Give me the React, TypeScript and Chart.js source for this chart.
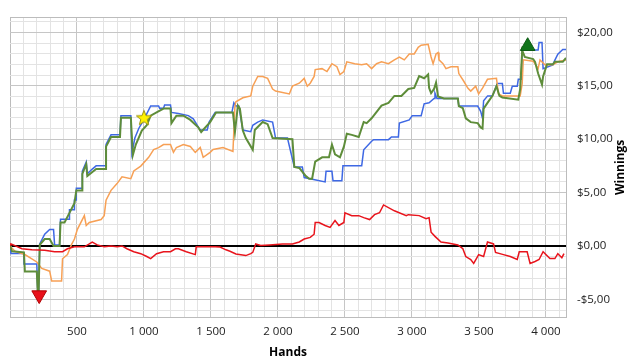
import React, { useEffect, useRef } from "react";
import { Chart, registerables } from "chart.js";

Chart.register(...registerables);

// ---- data (hands, winnings in $) ----
const blueHands = [0,7,104,104,200,207,214,222,259,296,325,333,370,377,444,444,481,481,495,495,540,540,569,577,614,643,717,717,754,821,828,902,910,932,961,998,1050,1109,1117,1146,1154,1198,1205,1257,1331,1368,1420,1472,1486,1531,1656,1671,1686,1708,1738,1797,1812,1849,1886,1960,1982,2071,2122,2182,2196,2352,2359,2403,2411,2477,2485,2625,2640,2699,2714,2825,2847,2899,2906,2980,3002,3069,3091,3128,3165,3172,3187,3343,3350,3491,3513,3527,3535,3565,3601,3638,3675,3683,3734,3749,3786,3794,3816,3823,3856,3942,3949,3971,3979,4052,4067,4089,4126,4150];
const blueValues = [0,-0.7,-0.7,-1.7,-1.7,-4.2,-4.2,0.2,1.1,1.55,1.55,0.1,0.1,2.5,2.5,3.4,3.4,4.3,4.3,5.4,5.4,7.0,7.85,6.75,7.2,7.5,7.5,9.5,10.4,10.4,12.2,12.2,8.7,10.1,11.0,11.8,13.1,13.1,12.9,12.9,13.2,13.2,12.5,12.4,12.2,11.9,10.85,10.85,11.6,12.5,12.5,13.4,13.1,13.1,10.85,10.7,11.3,11.6,11.8,11.6,10.1,10.1,7.4,7.4,6.4,6.0,7.0,7.0,6.1,6.1,7.5,7.5,9.0,9.8,9.95,9.95,10.2,10.2,11.5,11.8,12.2,12.2,13.3,13.4,13.8,14.3,13.8,13.8,13.1,13.1,12.6,11.95,13.6,14.05,14.05,15.2,15.2,14.3,14.3,14.95,14.95,15.6,15.6,18.4,18.35,18.35,19.05,19.05,16.6,16.95,17.4,17.95,18.4,18.4];

const greenHands = [0,15,104,111,200,207,214,222,259,296,325,370,377,407,444,481,495,540,540,569,577,643,717,717,754,821,828,902,917,939,984,1021,1050,1094,1146,1198,1205,1242,1294,1346,1405,1427,1494,1538,1664,1679,1701,1716,1738,1760,1812,1827,1886,1923,1960,2108,2122,2159,2204,2233,2255,2278,2330,2381,2403,2426,2463,2492,2514,2551,2603,2640,2662,2699,2773,2825,2869,2921,2973,3017,3054,3091,3121,3128,3143,3165,3180,3195,3239,3343,3350,3380,3402,3439,3491,3513,3527,3535,3564,3601,3631,3653,3675,3794,3808,3823,3842,3905,3919,3942,3971,3979,4008,4052,4067,4126,4150];
const greenValues = [0,-0.5,-0.6,-2.4,-2.4,-4.2,-4.2,0.1,0.65,0.65,0,0,2.2,2.2,3.1,4.0,5.2,5.2,6.75,7.65,6.55,7.2,7.2,9.3,10.2,10.2,12.0,12.0,8.5,9.5,10.8,11.3,12.2,12.5,12.86,12.86,11.5,12.2,12.2,11.8,11.1,10.67,11.6,12.5,12.5,10.67,13.14,12.86,10.8,10.1,9.0,10.85,11.6,11.4,10.1,10.0,7.4,7.3,6.6,6.3,6.3,7.9,8.3,8.3,9.5,8.58,8.3,9.3,10.5,10.4,10.2,11.6,11.5,11.95,13.14,13.4,14.05,14.05,14.7,14.8,15.9,15.7,16.05,14.8,14.3,14.7,15.3,14.0,13.8,13.8,13.1,12.9,11.95,11.59,11.5,11.1,11.0,12.86,13.4,14.05,14.96,14.05,13.9,13.7,14.7,18.3,17.7,17.5,17.24,16.14,15.1,15.87,17.0,17.0,17.24,17.24,17.6];

const orangeHands = [0,37,111,200,237,296,311,385,392,429,458,481,503,555,569,592,680,703,717,754,799,836,902,924,976,1035,1072,1109,1146,1198,1220,1242,1294,1346,1383,1420,1442,1494,1516,1590,1664,1679,1686,1738,1797,1812,1849,1886,1923,1960,1982,2085,2108,2159,2196,2219,2241,2270,2278,2329,2366,2403,2440,2463,2492,2514,2573,2625,2662,2699,2736,2773,2825,2869,2906,2943,2980,3017,3047,3069,3121,3143,3158,3180,3195,3202,3232,3254,3291,3343,3350,3387,3417,3439,3476,3498,3527,3564,3631,3646,3675,3808,3823,3831,3905,3942,3956,3993,4052,4089,4150];
const orangeValues = [0,-0.5,-0.8,-1.5,-2.1,-2.36,-3.27,-3.27,-1.2,-0.8,0.1,0.65,1.56,2.84,1.92,2.2,2.47,2.84,4.29,5.21,5.84,6.48,6.3,7.03,7.48,8.3,9.03,9.2,9.49,9.49,8.76,9.22,9.49,9.31,8.76,9.22,8.3,8.76,9.03,9.22,8.85,13.14,13.5,13.87,14.05,14.96,15.87,15.87,15.69,14.69,14.5,14.23,14.96,15.24,15.69,14.96,15.24,15.87,16.51,16.6,16.33,17.06,16.78,16.05,16.33,17.24,17.06,16.96,17.06,16.6,17.06,17.24,17.06,17.42,17.69,17.42,17.97,17.97,18.6,18.79,18.88,17.69,17.06,17.97,18.1,17.42,17.06,16.6,16.78,16.78,16.14,15.42,14.78,14.5,14.96,14.23,14.78,15.6,15.69,14.23,14.05,14.05,15.2,17.42,17.3,16.6,17.42,16.96,16.96,17.24,17.4];

const redHands = [0,7,89,163,259,333,392,429,481,555,592,614,651,703,754,799,836,873,924,976,1021,1050,1094,1146,1198,1235,1257,1316,1383,1390,1442,1531,1568,1612,1642,1686,1760,1797,1812,1834,1871,1937,2034,2108,2159,2196,2241,2270,2278,2307,2352,2389,2426,2455,2492,2500,2551,2603,2640,2684,2721,2758,2788,2869,2958,2973,3054,3106,3128,3143,3172,3217,3269,3343,3380,3402,3439,3461,3498,3535,3564,3609,3624,3683,3734,3786,3801,3860,3882,3919,3949,3979,4030,4067,4089,4119,4135];
const redValues = [0.1,0.19,-0.26,-0.36,-0.4,-0.54,-0.54,-0.26,-0.08,-0.08,0.19,0.37,0.1,-0.08,0,-0.08,0,-0.26,-0.54,-0.72,-0.99,-1.18,-0.72,-0.54,-0.54,-0.26,-0.26,-0.54,-0.81,-0.08,-0.08,-0.08,-0.1,-0.36,-0.5,-0.75,-0.9,-0.72,-0.6,0.19,0.05,0.1,0.19,0.19,0.37,0.65,0.8,1.1,2.2,2.2,1.92,1.74,2.38,1.92,2.2,3.11,2.84,2.84,2.65,2.47,2.93,3.11,3.84,3.29,2.84,2.93,2.84,2.56,2.65,1.29,0.9,0.37,0.28,0.1,-0.26,-0.99,-1.27,-1.63,-0.81,-0.99,0.37,0.19,-0.6,-0.81,-0.99,-1.27,-0.54,-0.54,-1.63,-1.45,-1.27,-0.54,-1.18,-1.18,-0.72,-1.1,-0.72];

const starHand = [1000];
const starValue = [12.0];
const minMarkerHand = [218];
const minMarkerValue = [-4.6];
const maxMarkerHand = [3864];
const maxMarkerValue = [18.7];

const xMin = 0;
const xMax = 4150;
const xStep = 100;
const xLabelStep = 500;
const yMin = -6.65;
const yMax = 21.35;
const yStep = 1;
const yLabelStep = 5;

const FONT = "'Open Sans', 'Noto Sans', sans-serif";

function pts(xs: number[], ys: number[]) {
  return xs.map((x, i) => ({ x, y: ys[i] }));
}

function stepTicks(min: number, max: number, step: number) {
  const t: { value: number }[] = [{ value: min }];
  for (let v = Math.ceil(min / step) * step; v < max; v += step) {
    if (v > min) t.push({ value: Math.round(v * 1000) / 1000 });
  }
  t.push({ value: max });
  return t;
}

function makeStar(): HTMLCanvasElement {
  const c = document.createElement("canvas");
  c.width = 18;
  c.height = 18;
  const g = c.getContext("2d")!;
  const cx = 9, cy = 9.5, R = 8, r = 3.4;
  g.beginPath();
  for (let i = 0; i < 10; i++) {
    const a = -Math.PI / 2 + (i * Math.PI) / 5;
    const rad = i % 2 === 0 ? R : r;
    const px = cx + Math.cos(a) * rad;
    const py = cy + Math.sin(a) * rad;
    if (i === 0) g.moveTo(px, py);
    else g.lineTo(px, py);
  }
  g.closePath();
  g.fillStyle = "#fff200";
  g.fill();
  g.strokeStyle = "#9c9418";
  g.lineWidth = 1;
  g.stroke();
  return c;
}

const titlesPlugin = {
  id: "titles",
  afterDraw(chart: any) {
    const { ctx, chartArea } = chart;
    ctx.save();
    ctx.fillStyle = "#000";
    ctx.font = `bold 12px ${FONT}`;
    ctx.textAlign = "center";
    ctx.textBaseline = "middle";
    ctx.fillText("Hands", (chartArea.left + chartArea.right) / 2, 353);
    ctx.translate(621, (chartArea.top + chartArea.bottom) / 2);
    ctx.rotate(-Math.PI / 2);
    ctx.fillText("Winnings", 0, 0);
    ctx.restore();
  },
};

export default function App() {
  const ref = useRef<HTMLCanvasElement | null>(null);
  useEffect(() => {
    if (!ref.current) return;
    const star = makeStar();
    const chart = new Chart(ref.current, {
      type: "line",
      data: {
        datasets: [
          {
            label: "star",
            data: pts(starHand, starValue),
            showLine: false,
            pointStyle: star as any,
            pointRadius: 9,
          },
          {
            label: "min",
            data: pts(minMarkerHand, minMarkerValue),
            showLine: false,
            pointStyle: "triangle",
            rotation: 180,
            pointRadius: 8.5,
            pointBackgroundColor: "#e8101a",
            pointBorderColor: "#b00000",
            pointBorderWidth: 1,
          },
          {
            label: "max",
            data: pts(maxMarkerHand, maxMarkerValue),
            showLine: false,
            pointStyle: "triangle",
            pointRadius: 8.5,
            pointBackgroundColor: "#11741a",
            pointBorderColor: "#0b5a12",
            pointBorderWidth: 1,
          },
          {
            label: "red",
            data: pts(redHands, redValues),
            borderColor: "#e8141c",
            borderWidth: 1.5,
            pointRadius: 0,
          },
          {
            label: "green",
            data: pts(greenHands, greenValues),
            borderColor: "#5e8d3a",
            borderWidth: 2,
            pointRadius: 0,
          },
          {
            label: "orange",
            data: pts(orangeHands, orangeValues),
            borderColor: "#f7a055",
            borderWidth: 1.5,
            pointRadius: 0,
          },
          {
            label: "blue",
            data: pts(blueHands, blueValues),
            borderColor: "#3e68e4",
            borderWidth: 1.5,
            pointRadius: 0,
          },
        ],
      },
      options: {
        responsive: false,
        animation: false,
        events: [],
        layout: { padding: { left: 5, top: 10, right: 0, bottom: 0 } },
        elements: { line: { tension: 0 } },
        plugins: {
          legend: { display: false },
          tooltip: { enabled: false },
        },
        scales: {
          x: {
            type: "linear",
            min: xMin,
            max: xMax,
            afterBuildTicks: (s: any) => {
              s.ticks = stepTicks(xMin, xMax, xStep);
            },
            afterFit: (s: any) => {
              s.height = 46;
            },
            border: { display: true, color: "#bcbcbc", width: 1 },
            grid: {
              drawTicks: false,
              color: (c: any) => {
                const v = c.tick.value;
                if (v === xMin || v === xMax) return "#bcbcbc";
                return v % xLabelStep === 0 ? "#c6c6c6" : "#e3e3e3";
              },
            },
            ticks: {
              autoSkip: false,
              maxRotation: 0,
              minRotation: 0,
              padding: 8,
              color: "#222",
              font: { family: FONT, size: 11.5 },
              callback: (v: any) => {
                const n = Number(v);
                if (n <= xMin || n >= xMax || n % xLabelStep !== 0) return "";
                return n >= 1000
                  ? Math.floor(n / 1000) + " " + String(n % 1000).padStart(3, "0")
                  : String(n);
              },
            },
          },
          y: {
            type: "linear",
            position: "right",
            min: yMin,
            max: yMax,
            afterBuildTicks: (s: any) => {
              s.ticks = stepTicks(yMin, yMax, yStep);
            },
            afterFit: (s: any) => {
              s.width = 63;
            },
            border: { display: true, color: "#bcbcbc", width: 1 },
            grid: {
              drawTicks: false,
              color: (c: any) => {
                const v = c.tick.value;
                if (v === 0) return "#000";
                if (v === yMin || v === yMax) return "#bcbcbc";
                return v % yLabelStep === 0 ? "#c6c6c6" : "#e3e3e3";
              },
              lineWidth: (c: any) => (c.tick.value === 0 ? 2 : 1),
            },
            ticks: {
              autoSkip: false,
              padding: 11,
              color: "#222",
              font: { family: FONT, size: 11.5 },
              callback: (v: any) => {
                const n = Number(v);
                if (!Number.isInteger(n) || n % yLabelStep !== 0) return "";
                const s = "$" + Math.abs(n).toFixed(2).replace(".", ",");
                return n < 0 ? "-" + s : s;
              },
            },
          },
        },
      },
      plugins: [titlesPlugin],
    });
    return () => chart.destroy();
  }, []);
  return (
    <div style={{ position: "fixed", left: 0, top: 0, width: 629, height: 363, background: "#fff" }}>
      <canvas ref={ref} width={629} height={363} style={{ display: "block" }} />
    </div>
  );
}
